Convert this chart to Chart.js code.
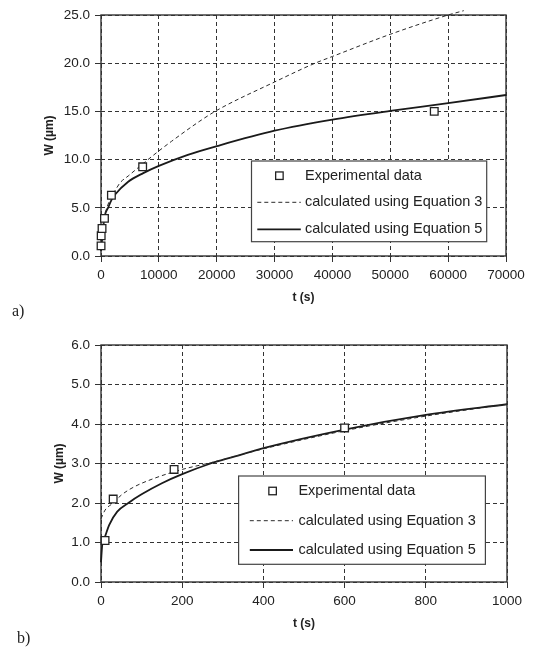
<!DOCTYPE html>
<html>
<head>
<meta charset="utf-8">
<script src="https://cdn.jsdelivr.net/npm/chart.js@4/dist/chart.umd.min.js"></script>
<style>
  html, body { margin: 0; padding: 0; background: #fff; }
  #wrap { position: relative; width: 533px; height: 650px; overflow: hidden; background: #fff; }
  canvas { position: absolute; left: 0; }
  .panel { position: absolute; font-family: 'Liberation Serif', 'Times New Roman', serif; font-size: 16px; color: #222; line-height: 18px; }
</style>
</head>
<body>
<div id="wrap">
  <canvas id="ca" width="533" height="320" style="top:0px"></canvas>
  <canvas id="cb" width="533" height="330" style="top:320px"></canvas>
  <div class="panel" style="left:12px; top:302px;">a)</div>
  <div class="panel" style="left:17px; top:629px;">b)</div>
</div>
<script>
// ---------- data ----------
const legendLabels = ['Experimental data', 'calculated using Equation 3', 'calculated using Equation 5'];
const xTitle = 't (s)';
const yTitle = 'W (\u00b5m)';

// experimental points (t in s, W in µm)
const expT = [10, 30, 180, 600, 1800, 7200, 57600];
const expW = [1.05, 2.1, 2.85, 3.9, 6.3, 9.25, 15.0];

// panel a) curves
const aEq3T = [0, 600, 1800, 2500, 3300, 4700, 7300, 10000, 12200, 17100, 20000, 30000, 37000, 40000, 50000, 60000, 62700];
const aEq3W = [1.6, 4.0, 6.2, 6.85, 7.6, 8.3, 9.6, 10.9, 11.9, 14.0, 15.1, 18.05, 20.0, 20.7, 23.0, 25.0, 25.45];
const aEq5T = [0, 600, 1300, 1800, 2400, 4700, 7300, 10000, 15000, 20000, 30000, 40000, 50000, 60000, 70000];
const aEq5W = [0.5, 4.0, 5.1, 5.8, 6.35, 7.7, 8.6, 9.35, 10.5, 11.4, 13.0, 14.15, 15.05, 15.85, 16.7];

// panel b) curves
const bEq3T = [0, 10, 30, 50, 80, 130, 200, 270, 400, 600, 800, 1000];
const bEq3W = [1.6, 1.82, 2.0, 2.2, 2.4, 2.62, 2.85, 3.02, 3.37, 3.83, 4.2, 4.5];
const bEq5T = [0, 3, 10, 20, 40, 70, 100, 150, 200, 270, 330, 400, 600, 800, 1000];
const bEq5W = [0.5, 0.94, 1.15, 1.44, 1.78, 2.02, 2.22, 2.5, 2.73, 3.0, 3.18, 3.39, 3.86, 4.23, 4.5];

// axis ranges / ticks
const aX = {min: 0, max: 70000, step: 10000};
const aY = {min: 0, max: 25, step: 5};
const bX = {min: 0, max: 1000, step: 200};
const bY = {min: 0, max: 6, step: 1};

// ---------- helpers ----------
const pts = (ts, ws) => ts.map((t, i) => ({x: t, y: ws[i]}));
const INK = '#222';
Chart.defaults.font.family = "'Liberation Sans', Arial, Helvetica, sans-serif";
Chart.defaults.color = INK;

const frameAndLegend = {
  id: 'frameAndLegend',
  beforeDatasetsDraw(chart) {
    const {ctx, chartArea: a} = chart;
    ctx.save();
    ctx.strokeStyle = '#333';
    ctx.lineWidth = 1.4;
    ctx.setLineDash([]);
    ctx.strokeRect(a.left, a.top, a.right - a.left, a.bottom - a.top);
    ctx.restore();
  },
  afterDraw(chart, args, o) {
    const ctx = chart.ctx;
    ctx.save();
    ctx.fillStyle = '#fff';
    ctx.fillRect(o.x1, o.y1, o.x2 - o.x1, o.y2 - o.y1);
    ctx.strokeStyle = '#444';
    ctx.lineWidth = 1.2;
    ctx.strokeRect(o.x1, o.y1, o.x2 - o.x1, o.y2 - o.y1);
    ctx.font = o.fontSize + "px 'Liberation Sans', Arial, sans-serif";
    ctx.textBaseline = 'middle';
    chart.data.datasets.forEach((ds, i) => {
      const y = o.rows[i];
      if (ds.showLine === false) {
        const s = o.markerSize;
        ctx.fillStyle = '#fff';
        ctx.fillRect(o.markerX - s / 2, y - s / 2, s, s);
        ctx.strokeStyle = ds.borderColor;
        ctx.lineWidth = 1.3;
        ctx.setLineDash([]);
        ctx.strokeRect(o.markerX - s / 2, y - s / 2, s, s);
      } else {
        ctx.strokeStyle = ds.borderColor;
        ctx.lineWidth = ds.borderWidth;
        ctx.setLineDash(ds.borderDash || []);
        ctx.beginPath();
        ctx.moveTo(o.lineX1, y);
        ctx.lineTo(o.lineX2, y);
        ctx.stroke();
        ctx.setLineDash([]);
      }
      ctx.fillStyle = INK;
      ctx.fillText(ds.label, o.textX, y);
    });
    ctx.restore();
  }
};

function makeChart(id, cfg) {
  const datasets = [
    {
      label: legendLabels[0], data: pts(expT, expW), showLine: false,
      pointStyle: 'rect', pointRadius: 5.4, pointBorderWidth: 1.3,
      borderColor: INK, pointBorderColor: INK, pointBackgroundColor: '#fff',
      clip: {left: 10, top: 10, right: 10, bottom: 10}
    },
    {
      label: legendLabels[1], data: pts(cfg.eq3T, cfg.eq3W), showLine: true, borderColor: '#2a2a2a',
      borderWidth: 1, borderDash: [4, 3], pointRadius: 0, fill: false,
      cubicInterpolationMode: 'monotone', clip: cfg.eq3Clip
    },
    {
      label: legendLabels[2], data: pts(cfg.eq5T, cfg.eq5W), showLine: true, borderColor: '#1a1a1a',
      borderWidth: 1.8, pointRadius: 0, fill: false,
      cubicInterpolationMode: 'monotone', clip: cfg.eq5Clip
    }
  ];
  const tickFont = {size: 13.5};
  const titleFont = {size: 12, weight: 'bold'};
  const grid = {
    color: '#333', lineWidth: 1, drawTicks: true, tickLength: 6,
    tickColor: '#333', tickWidth: 1, tickBorderDash: []
  };
  return new Chart(document.getElementById(id), {
    type: 'scatter',
    data: {datasets},
    plugins: [frameAndLegend],
    options: {
      responsive: false, animation: false, devicePixelRatio: 1,
      layout: {padding: cfg.pad},
      plugins: {legend: {display: false}, tooltip: {enabled: false}, frameAndLegend: cfg.legend},
      scales: {
        x: {
          type: 'linear', min: cfg.x.min, max: cfg.x.max,
          ticks: {stepSize: cfg.x.step, font: tickFont, padding: 5, callback: v => String(v), maxRotation: 0},
          grid: grid, border: {display: false, dash: [4, 3]},
          title: {display: true, text: xTitle, font: titleFont, padding: {top: 0, bottom: cfg.xTitlePad}},
          afterFit: s => { s.height = cfg.xH; }
        },
        y: {
          type: 'linear', min: cfg.y.min, max: cfg.y.max,
          ticks: {stepSize: cfg.y.step, font: tickFont, padding: 5, callback: v => Number(v).toFixed(1)},
          grid: grid, border: {display: false, dash: [4, 3]},
          title: {display: true, text: yTitle, font: titleFont, padding: {top: cfg.yTitlePad, bottom: 0}},
          afterFit: s => { s.width = cfg.yW; }
        }
      }
    }
  });
}

makeChart('ca', {
  eq3T: aEq3T, eq3W: aEq3W, eq5T: aEq5T, eq5W: aEq5W, x: aX, y: aY,
  eq3Clip: {left: 2, top: 6, right: 2, bottom: 2}, eq5Clip: {left: 2, top: 2, right: 3, bottom: 2},
  pad: {left: 0, top: 15, right: 27, bottom: 12}, xH: 52, yW: 101, xTitlePad: 3, yTitlePad: 42,
  legend: {x1: 251.5, y1: 161, x2: 486.7, y2: 241.7, markerX: 279.4, markerSize: 7.5,
           lineX1: 257.3, lineX2: 300.8, textX: 305, rows: [175.7, 202.3, 229.3], fontSize: 14.5}
});
makeChart('cb', {
  eq3T: bEq3T, eq3W: bEq3W, eq5T: bEq5T, eq5W: bEq5W, x: bX, y: bY,
  eq3Clip: {left: 2, top: 2, right: 2, bottom: 2}, eq5Clip: {left: 2, top: 2, right: 2, bottom: 2},
  pad: {left: 0, top: 25, right: 26, bottom: 16}, xH: 52, yW: 101, xTitlePad: 3, yTitlePad: 52,
  legend: {x1: 238.6, y1: 156, x2: 485.4, y2: 244.3, markerX: 272.6, markerSize: 7.5,
           lineX1: 249.8, lineX2: 293, textX: 298.4, rows: [171, 200.7, 230], fontSize: 14.5}
});
</script>
</body>
</html>
